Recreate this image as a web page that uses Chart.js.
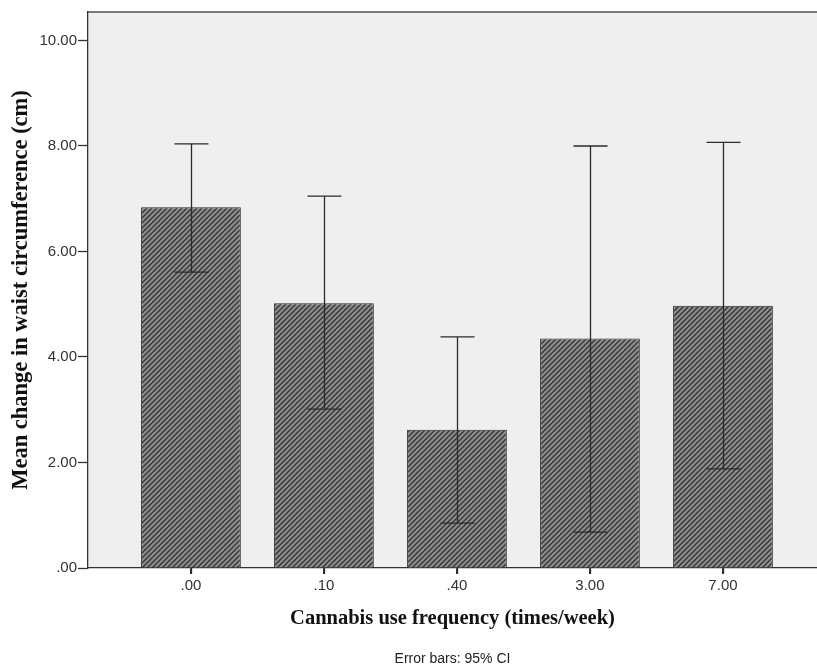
<!DOCTYPE html>
<html>
<head>
<meta charset="utf-8">
<script src="https://cdn.jsdelivr.net/npm/chart.js@4.4.1/dist/chart.umd.min.js"></script>
<style>
  html, body { margin: 0; padding: 0; background: #fff; }
  #wrap { width: 817px; height: 668px; }
</style>
</head>
<body>
<div id="wrap"><canvas id="bar-chart" width="817" height="668"></canvas></div>
<script>
// data
const categories = ['.00', '.10', '.40', '3.00', '7.00'];
const means = [6.84, 5.02, 2.62, 4.35, 4.97];
const ciLower = [5.61, 3.01, 0.85, 0.68, 1.88];
const ciUpper = [8.04, 7.05, 4.38, 8.00, 8.07];
const yTicks = [0, 2, 4, 6, 8, 10];

// hatch fill like the spss bars
function makeHatch() {
  const c = document.createElement('canvas');
  c.width = 5;
  c.height = 5;
  const g = c.getContext('2d');
  g.fillStyle = '#8e8e8e';
  g.fillRect(0, 0, 5, 5);
  g.strokeStyle = '#353535';
  g.lineWidth = 1.4;
  g.beginPath();
  g.moveTo(-1, 6); g.lineTo(6, -1);
  g.moveTo(-1, 1); g.lineTo(1, -1);
  g.moveTo(4, 6); g.lineTo(6, 4);
  g.stroke();
  return g.createPattern(c, 'repeat');
}
const hatch = makeHatch();

const plotBackground = {
  id: 'plotBackground',
  beforeDraw(chart) {
    const { ctx, chartArea } = chart;
    ctx.save();
    ctx.fillStyle = '#efefef';
    ctx.fillRect(chartArea.left, chartArea.top, chartArea.right - chartArea.left, chartArea.bottom - chartArea.top);
    // top border
    ctx.strokeStyle = '#7a7a7a';
    ctx.lineWidth = 2;
    ctx.beginPath();
    ctx.moveTo(chartArea.left, chartArea.top);
    ctx.lineTo(chartArea.right, chartArea.top);
    ctx.stroke();
    ctx.restore();
  }
};

const errorBars = {
  id: 'errorBars',
  afterDatasetsDraw(chart) {
    const { ctx, scales, chartArea } = chart;
    const x = scales.x, y = scales.y;
    ctx.save();
    ctx.strokeStyle = '#2b2b2b';
    ctx.lineWidth = 1.3;
    for (let i = 0; i < categories.length; i++) {
      const px = Math.round(x.getPixelForValue(i)) + 0.5;
      const lo = y.getPixelForValue(ciLower[i]);
      const hi = y.getPixelForValue(ciUpper[i]);
      ctx.beginPath();
      ctx.moveTo(px, lo);
      ctx.lineTo(px, hi);
      ctx.moveTo(px - 17, hi);
      ctx.lineTo(px + 17, hi);
      ctx.moveTo(px - 17, lo);
      ctx.lineTo(px + 17, lo);
      // tick mark under the axis
      ctx.moveTo(px, chartArea.bottom);
      ctx.lineTo(px, chartArea.bottom + 6);
      ctx.stroke();
    }
    ctx.restore();
  }
};

const footNote = {
  id: 'footNote',
  afterDraw(chart) {
    const { ctx, chartArea } = chart;
    ctx.save();
    ctx.font = '14px "Liberation Sans", Arial, sans-serif';
    ctx.fillStyle = '#222';
    ctx.textAlign = 'center';
    ctx.textBaseline = 'middle';
    ctx.fillText('Error bars: 95% CI', (chartArea.left + chartArea.right) / 2, 659);
    ctx.restore();
  }
};

const config = {
  type: 'bar',
  data: {
    datasets: [{
      data: means.map((m, i) => ({ x: i, y: m })),
      backgroundColor: hatch,
      borderColor: '#2b2b2b',
      borderWidth: 1,
      categoryPercentage: 0.75,
      barPercentage: 1
    }]
  },
  options: {
    responsive: false,
    animation: false,
    layout: { padding: { top: 12, right: 0, bottom: 0, left: 0 } },
    plugins: {
      legend: { display: false },
      tooltip: { enabled: false }
    },
    scales: {
      x: {
        type: 'linear',
        offset: false,
        min: -0.774,
        max: 4.707,
        afterBuildTicks(scale) {
          scale.ticks = categories.map((c, i) => ({ value: i }));
        },
        afterFit(scale) { scale.height = 100; },
        grid: { offset: false, drawOnChartArea: false, drawTicks: true, tickLength: 6, color: '#333', lineWidth: 1.3 },
        border: { display: true, color: '#333', width: 1.3 },
        ticks: {
          color: '#333',
          padding: 3,
          maxRotation: 0,
          font: { family: '"Liberation Sans", Arial, sans-serif', size: 15 },
          callback: (v) => categories[v]
        },
        title: {
          display: true,
          text: 'Cannabis use frequency (times/week)',
          color: '#111',
          font: { family: '"Liberation Serif", "Times New Roman", serif', size: 20.5, weight: 'bold' },
          padding: { top: 0, bottom: 37 }
        }
      },
      y: {
        min: 0,
        max: 10.54,
        afterBuildTicks(scale) {
          scale.ticks = yTicks.map(v => ({ value: v }));
        },
        afterFit(scale) { scale.width = 88; },
        grid: { drawOnChartArea: false, drawTicks: true, tickLength: 10, color: '#333', tickWidth: 1.3 },
        border: { display: true, color: '#333', width: 1.3 },
        ticks: {
          color: '#333',
          padding: 1,
          font: { family: '"Liberation Sans", Arial, sans-serif', size: 15 },
          callback: (v) => v === 0 ? '.00' : v.toFixed(2)
        },
        title: {
          display: true,
          text: 'Mean change in waist circumference (cm)',
          color: '#111',
          font: { family: '"Liberation Serif", "Times New Roman", serif', size: 22.5, weight: 'bold' },
          padding: { top: 8, bottom: 0 }
        }
      }
    }
  },
  plugins: [plotBackground, errorBars, footNote]
};

const barChart = new Chart(document.getElementById('bar-chart').getContext('2d'), config);
</script>
</body>
</html>
